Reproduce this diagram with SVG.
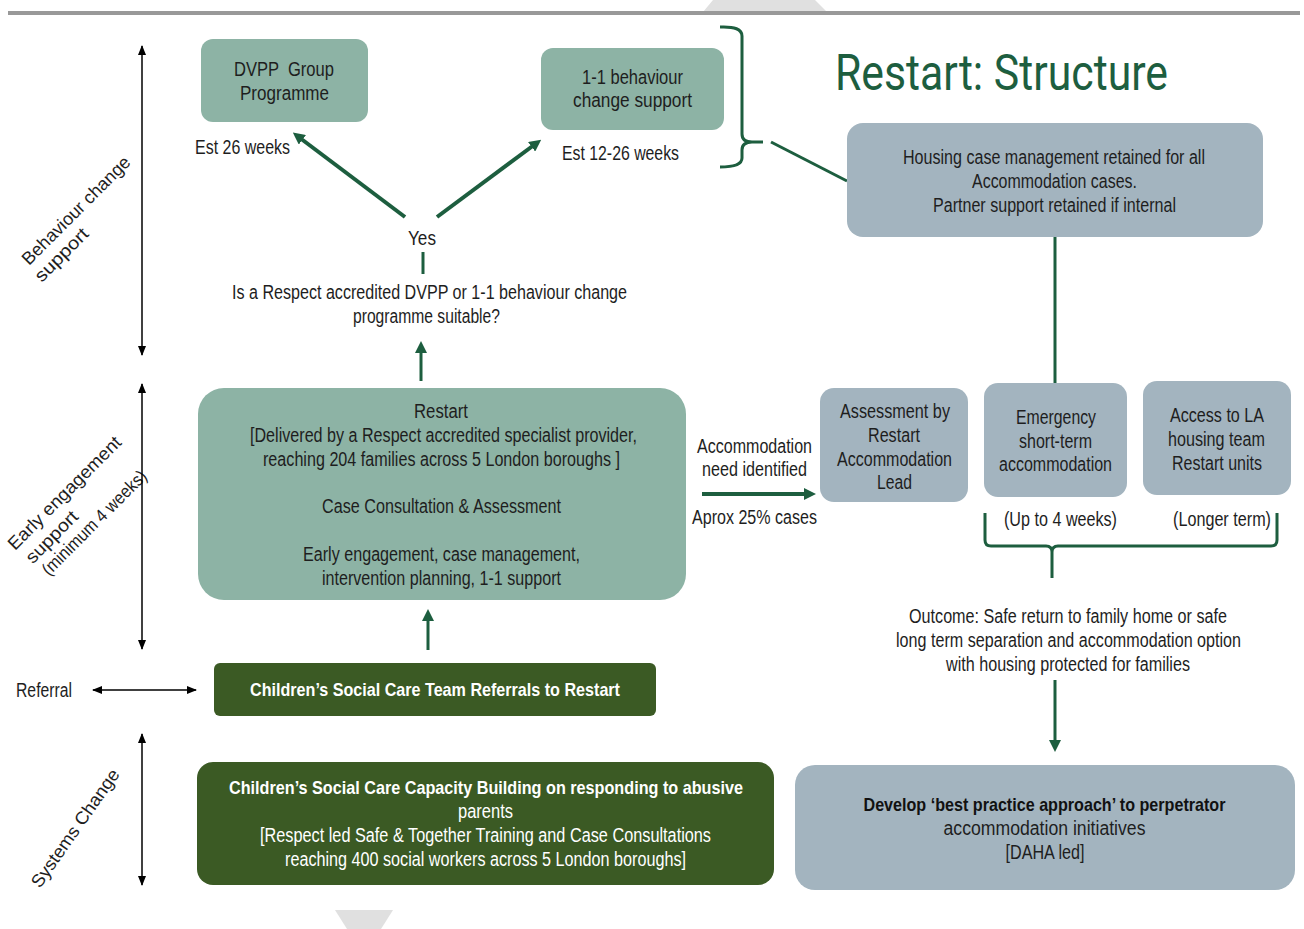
<svg xmlns="http://www.w3.org/2000/svg" width="1304" height="929" viewBox="0 0 1304 929">
<defs>
<style>
.t{font-family:"Liberation Sans",Arial,sans-serif;font-size:20px;fill:#1e1e1e;text-anchor:middle}
.s{text-anchor:start}
.w{fill:#fff}
.b{font-weight:bold}
.teal{fill:#8db3a5}
.grey{fill:#a3b4bf}
.dk{fill:#3b5a24}
.gl{fill:none;stroke:#1d5e3f;stroke-width:3}
.ga{fill:none;stroke:#1d5e3f;stroke-width:4;marker-end:url(#ag)}
.ka{fill:none;stroke:#000;stroke-width:1.5;marker-start:url(#ab);marker-end:url(#ab)}
.rot{font-family:"Liberation Sans",Arial,sans-serif;font-size:18px;fill:#1e1e1e}
</style>
<marker id="ab" viewBox="0 0 10 8" refX="9" refY="4" markerWidth="10" markerHeight="8" markerUnits="userSpaceOnUse" orient="auto-start-reverse"><path d="M0,0L10,4L0,8z" fill="#000"/></marker>
<marker id="ag" viewBox="0 0 12 12" refX="3" refY="6" markerWidth="12" markerHeight="12" markerUnits="userSpaceOnUse" orient="auto"><path d="M0,0L12,6L0,12z" fill="#1d5e3f"/></marker>
</defs>
<rect width="1304" height="929" fill="#fff"/>
<polygon points="703,12 713,0 815,0 827,12" fill="#e0e0e0"/>
<polygon points="335,910 393,910 381,929 347,929" fill="#e0e0e0"/>
<line x1="8" y1="13" x2="1300" y2="13" stroke="#999" stroke-width="4"/>

<text x="835" y="90" style="font-family:Roboto,'Liberation Sans',sans-serif;font-size:50px;fill:#1d5e3f" textLength="333" lengthAdjust="spacingAndGlyphs">Restart: Structure</text>

<g id="side-labels">
<g transform="translate(29,266) rotate(-45)"><text class="rot" x="0" y="0" textLength="145" lengthAdjust="spacingAndGlyphs">Behaviour change</text><text class="rot" x="-3" y="21" textLength="68" lengthAdjust="spacingAndGlyphs">support</text></g>
<g transform="translate(15,551) rotate(-45)"><text class="rot" x="0" y="0" textLength="152" lengthAdjust="spacingAndGlyphs">Early engagement</text><text class="rot" x="3" y="22" textLength="66" lengthAdjust="spacingAndGlyphs">support</text><text class="rot" x="6" y="42" textLength="140" lengthAdjust="spacingAndGlyphs">(minimum 4 weeks)</text></g>
<g transform="translate(40,889) rotate(-55)"><text class="rot" x="0" y="0" textLength="140" lengthAdjust="spacingAndGlyphs">Systems Change</text></g>
<text class="t s" x="16" y="697" textLength="56" lengthAdjust="spacingAndGlyphs">Referral</text>
</g>

<g id="connectors">
<line class="ka" x1="142" y1="46" x2="142" y2="355"/>
<line class="ka" x1="142" y1="384" x2="142" y2="649"/>
<line class="ka" x1="142" y1="734" x2="142" y2="885"/>
<line class="ka" x1="93" y1="690" x2="196" y2="690"/>
<path class="ga" d="M405,217 L300,138"/>
<path class="ga" d="M437,217 L534,145"/>
<path class="gl" d="M423,252 L423,274"/>
<path class="ga" style="stroke-width:3" d="M421,381 L421,350"/>
<path class="ga" style="stroke-width:3" d="M428,650 L428,618"/>
<path class="ga" d="M702,494 L807,494"/>
<path class="ga" style="stroke-width:3" d="M1055,680 L1055,743"/>
<path class="gl" d="M1055,237 L1055,383"/>
<path class="gl" d="M720,27 Q742,26 742,36 L742,134 Q742,142 752,142 L763,142 M752,142 Q742,142 742,150 L742,158 Q742,167 720,167"/>
<path class="gl" d="M771,142 L847,181"/>
<path class="gl" d="M985,513 L985,540 Q985,546 991,546 L1046,546 Q1052,546 1052,552 L1052,578 M1052,552 Q1052,546 1058,546 L1271,546 Q1277,546 1277,540 L1277,513"/>
</g>

<g id="dvpp">
<rect class="teal" x="201" y="39" width="167" height="83" rx="12"/>
<text class="t" x="284" y="76" style="white-space:pre" textLength="100" lengthAdjust="spacingAndGlyphs">DVPP  Group</text>
<text class="t" x="284.5" y="100" textLength="89" lengthAdjust="spacingAndGlyphs">Programme</text>
<text class="t s" x="195" y="154" textLength="95" lengthAdjust="spacingAndGlyphs">Est 26 weeks</text>
</g>

<g id="one-to-one">
<rect class="teal" x="541" y="48" width="183" height="82" rx="12"/>
<text class="t" x="632.5" y="84" textLength="101" lengthAdjust="spacingAndGlyphs">1-1 behaviour</text>
<text class="t" x="632.5" y="107" textLength="119" lengthAdjust="spacingAndGlyphs">change support</text>
<text class="t s" x="562" y="160" textLength="117" lengthAdjust="spacingAndGlyphs">Est 12-26 weeks</text>
</g>

<g id="decision">
<text class="t s" x="408" y="245" textLength="28" lengthAdjust="spacingAndGlyphs">Yes</text>
<text class="t" x="429.5" y="299" textLength="395" lengthAdjust="spacingAndGlyphs">Is a Respect accredited DVPP or 1-1 behaviour change</text>
<text class="t" x="426.5" y="323" textLength="147" lengthAdjust="spacingAndGlyphs">programme suitable?</text>
</g>

<g id="housing">
<rect class="grey" x="847" y="123" width="416" height="114" rx="16"/>
<text class="t" x="1054" y="164" textLength="302" lengthAdjust="spacingAndGlyphs">Housing case management retained for all</text>
<text class="t" x="1054.5" y="188" textLength="165" lengthAdjust="spacingAndGlyphs">Accommodation cases.</text>
<text class="t" x="1054.5" y="212" textLength="243" lengthAdjust="spacingAndGlyphs">Partner support retained if internal</text>
</g>

<g id="restart">
<rect class="teal" x="198" y="388" width="488" height="212" rx="26"/>
<text class="t" x="441" y="418" textLength="54" lengthAdjust="spacingAndGlyphs">Restart</text>
<text class="t" x="443.5" y="442" textLength="387" lengthAdjust="spacingAndGlyphs">[Delivered by a Respect accredited specialist provider,</text>
<text class="t" x="441.5" y="466" textLength="357" lengthAdjust="spacingAndGlyphs">reaching 204 families across 5 London boroughs ]</text>
<text class="t" x="441.5" y="513" textLength="239" lengthAdjust="spacingAndGlyphs">Case Consultation &amp; Assessment</text>
<text class="t" x="441.5" y="561" textLength="277" lengthAdjust="spacingAndGlyphs">Early engagement, case management,</text>
<text class="t" x="441.5" y="585" textLength="239" lengthAdjust="spacingAndGlyphs">intervention planning, 1-1 support</text>
</g>

<g id="accommodation-label">
<text class="t" x="754.5" y="453" textLength="115" lengthAdjust="spacingAndGlyphs">Accommodation</text>
<text class="t" x="754.5" y="476" textLength="105" lengthAdjust="spacingAndGlyphs">need identified</text>
<text class="t" x="754.5" y="524" textLength="125" lengthAdjust="spacingAndGlyphs">Aprox 25% cases</text>
</g>

<g id="assessment">
<rect class="grey" x="820" y="388" width="148" height="114" rx="14"/>
<text class="t" x="895" y="418" textLength="110" lengthAdjust="spacingAndGlyphs">Assessment by</text>
<text class="t" x="894" y="442" textLength="52" lengthAdjust="spacingAndGlyphs">Restart</text>
<text class="t" x="894.5" y="466" textLength="115" lengthAdjust="spacingAndGlyphs">Accommodation</text>
<text class="t" x="894.5" y="489" textLength="35" lengthAdjust="spacingAndGlyphs">Lead</text>
</g>

<g id="emergency">
<rect class="grey" x="984" y="383" width="143" height="114" rx="14"/>
<text class="t" x="1056" y="424" textLength="80" lengthAdjust="spacingAndGlyphs">Emergency</text>
<text class="t" x="1055.5" y="448" textLength="73" lengthAdjust="spacingAndGlyphs">short-term</text>
<text class="t" x="1055.5" y="471" textLength="113" lengthAdjust="spacingAndGlyphs">accommodation</text>
<text class="t" x="1060.5" y="526" textLength="113" lengthAdjust="spacingAndGlyphs">(Up to 4 weeks)</text>
</g>

<g id="la-housing">
<rect class="grey" x="1143" y="381" width="148" height="114" rx="14"/>
<text class="t" x="1217" y="422" textLength="94" lengthAdjust="spacingAndGlyphs">Access to LA</text>
<text class="t" x="1216.5" y="446" textLength="97" lengthAdjust="spacingAndGlyphs">housing team</text>
<text class="t" x="1217" y="470" textLength="90" lengthAdjust="spacingAndGlyphs">Restart units</text>
<text class="t" x="1222" y="526" textLength="98" lengthAdjust="spacingAndGlyphs">(Longer term)</text>
</g>

<g id="outcome">
<text class="t" x="1068" y="623" textLength="318" lengthAdjust="spacingAndGlyphs">Outcome: Safe return to family home or safe</text>
<text class="t" x="1068.5" y="647" textLength="345" lengthAdjust="spacingAndGlyphs">long term separation and accommodation option</text>
<text class="t" x="1068" y="671" textLength="244" lengthAdjust="spacingAndGlyphs">with housing protected for families</text>
</g>

<g id="csc-referrals">
<rect class="dk" x="214" y="663" width="442" height="53" rx="6"/>
<text class="t w b" x="435" y="696" style="font-size:19px" textLength="370" lengthAdjust="spacingAndGlyphs">Children’s Social Care Team Referrals to Restart</text>
</g>

<g id="csc-capacity">
<rect class="dk" x="197" y="762" width="577" height="123" rx="16"/>
<text class="t w b" x="486" y="794" style="font-size:19px" textLength="514" lengthAdjust="spacingAndGlyphs">Children’s Social Care Capacity Building on responding to abusive</text>
<text class="t w" x="485.5" y="818" textLength="55" lengthAdjust="spacingAndGlyphs">parents</text>
<text class="t w" x="485.5" y="842" textLength="451" lengthAdjust="spacingAndGlyphs">[Respect led Safe &amp; Together Training and Case Consultations</text>
<text class="t w" x="485.5" y="866" textLength="401" lengthAdjust="spacingAndGlyphs">reaching 400 social workers across 5 London boroughs]</text>
</g>

<g id="best-practice">
<rect class="grey" x="795" y="765" width="500" height="125" rx="20"/>
<text class="t b" x="1044.5" y="811" style="font-size:19px;fill:#111" textLength="362" lengthAdjust="spacingAndGlyphs">Develop ‘best practice approach’ to perpetrator</text>
<text class="t" x="1044.5" y="835" textLength="202" lengthAdjust="spacingAndGlyphs">accommodation initiatives</text>
<text class="t" x="1045" y="859" textLength="79" lengthAdjust="spacingAndGlyphs">[DAHA led]</text>
</g>
</svg>
